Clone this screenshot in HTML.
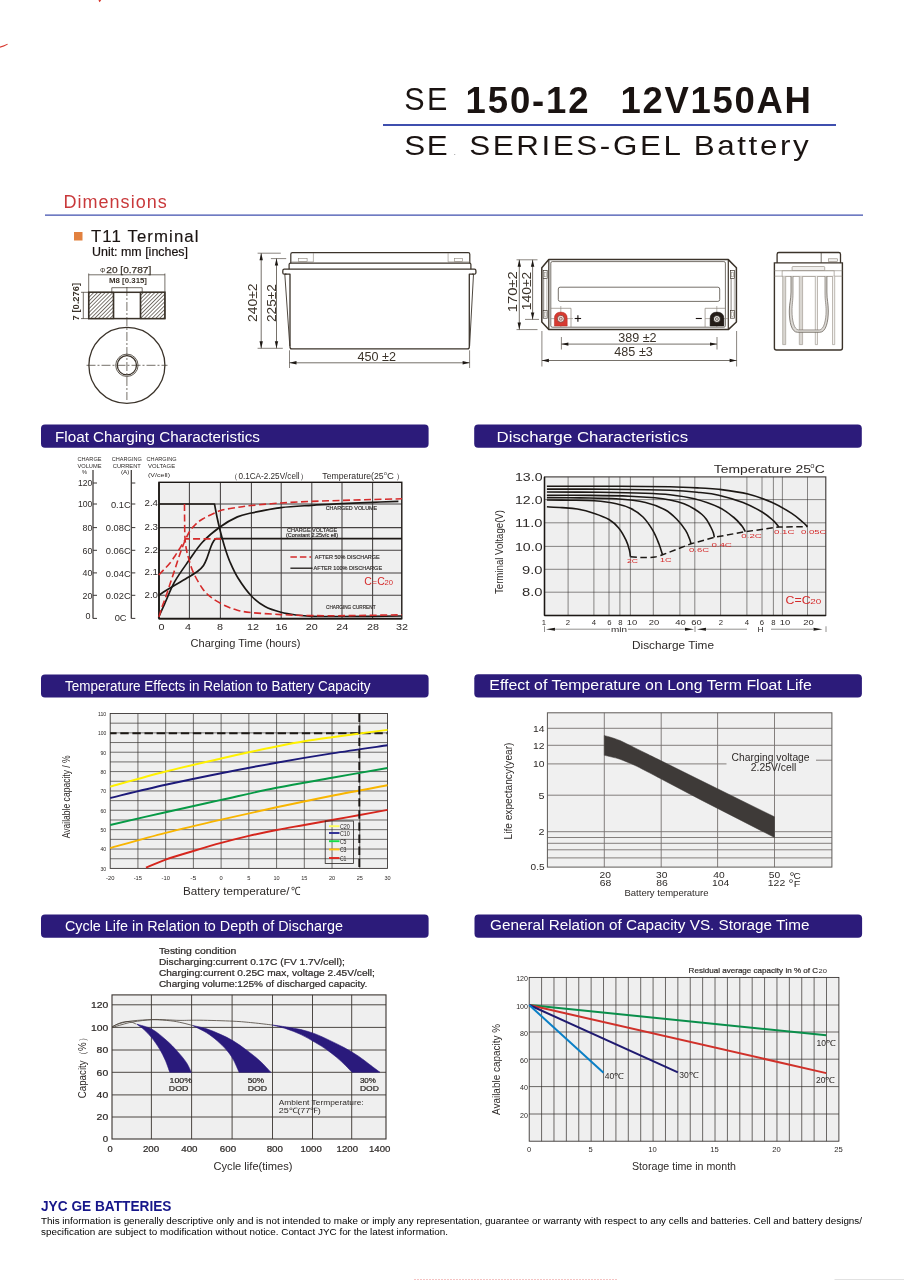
<!DOCTYPE html>
<html lang="en"><head><meta charset="utf-8"><title>SE 150-12 12V150AH SE SERIES-GEL Battery</title>
<style>html,body{margin:0;padding:0;background:#fff}body{width:904px;height:1280px;overflow:hidden}svg{display:block}svg text{font-family:"Liberation Sans", Arial, Helvetica, sans-serif;white-space:pre}</style></head><body>
<svg width="904" height="1280" viewBox="0 0 904 1280">
<rect width="904" height="1280" fill="#fff"/>
<g id="sec_header">
<path d="M0,46.5 Q4,45.6 7.5,43.8 L7.8,44.6 Q4,46.8 0,47.8 Z" fill="#d8382e" stroke="none" stroke-width="1" />
<path d="M98.5,0 L101.2,0 Q100.6,1.6 99.3,2.2 Z" fill="#d8382e" stroke="none" stroke-width="1" />
<text x="404.3" y="110.2" font-size="30.5" fill="#1a1311" textLength="43" lengthAdjust="spacing">SE</text>
<text x="465.6" y="112.6" font-size="36.5" fill="#1a1311" textLength="123" lengthAdjust="spacing" font-weight="bold">150-12</text>
<text x="620.4" y="112.6" font-size="36.5" fill="#1a1311" textLength="190.5" lengthAdjust="spacing" font-weight="bold">12V150AH</text>
<line x1="383" y1="124.9" x2="836" y2="124.9" stroke="#3f4fae" stroke-width="2" />
<text x="0" y="0" font-size="28.5" fill="#1a1311" textLength="39.55" lengthAdjust="spacing" transform="translate(404.2 155) scale(1.1 1)">SE</text>
<text x="453.5" y="155" font-size="9" fill="#999">.</text>
<text x="0" y="0" font-size="28.5" fill="#1a1311" textLength="308.64" lengthAdjust="spacing" transform="translate(469.2 155) scale(1.1 1)">SERIES-GEL Battery</text>
<text x="63.4" y="208.3" font-size="18" fill="#c9393b" textLength="103.4" lengthAdjust="spacing">Dimensions</text>
<line x1="45" y1="215.2" x2="863" y2="215.2" stroke="#3f4fae" stroke-width="1.3" />
<rect x="41" y="424.5" width="387.6" height="23.2" fill="#2c1b7a" stroke="none" stroke-width="1" rx="4" />
<text x="55" y="441.5" font-size="15.3" fill="#fff" textLength="205" lengthAdjust="spacingAndGlyphs">Float Charging Characteristics</text>
<rect x="474.2" y="424.5" width="387.6" height="23.2" fill="#2c1b7a" stroke="none" stroke-width="1" rx="4" />
<text x="496.6" y="441.5" font-size="15.4" fill="#fff" textLength="191.5" lengthAdjust="spacingAndGlyphs">Discharge Characteristics</text>
<rect x="41" y="674.4" width="387.6" height="23.2" fill="#2c1b7a" stroke="none" stroke-width="1" rx="4" />
<text x="64.9" y="690.8" font-size="15.3" fill="#fff" textLength="305.7" lengthAdjust="spacingAndGlyphs">Temperature Effects in Relation to Battery Capacity</text>
<rect x="474.3" y="674.3" width="387.6" height="23.2" fill="#2c1b7a" stroke="none" stroke-width="1" rx="4" />
<text x="489.3" y="689.9" font-size="15.5" fill="#fff" textLength="322.5" lengthAdjust="spacingAndGlyphs">Effect of Temperature on Long Term Float Life</text>
<rect x="41" y="914.5" width="387.6" height="23.2" fill="#2c1b7a" stroke="none" stroke-width="1" rx="4" />
<text x="64.9" y="930.5" font-size="15.4" fill="#fff" textLength="278" lengthAdjust="spacingAndGlyphs">Cycle Life in Relation to Depth of Discharge</text>
<rect x="474.5" y="914.5" width="387.6" height="23.2" fill="#2c1b7a" stroke="none" stroke-width="1" rx="4" />
<text x="490" y="930.1" font-size="15.4" fill="#fff" textLength="319.5" lengthAdjust="spacingAndGlyphs">General Relation of Capacity VS. Storage Time</text>
</g>
<g id="sec_dims">
<rect x="74" y="232" width="8.5" height="8.5" fill="#e2813f" stroke="none" stroke-width="1" rx="0" />
<text x="0" y="0" font-size="16" fill="#1a1311" textLength="102.38" lengthAdjust="spacing" transform="translate(91 242.3) scale(1.05 1)" stroke="#1a1311" stroke-width="0.15">T11 Terminal</text>
<text x="92" y="256" font-size="12.3" fill="#1a1311" textLength="96" lengthAdjust="spacingAndGlyphs" stroke="#1a1311" stroke-width="0.2">Unit: mm [inches]</text>
<text x="100" y="272.9" font-size="7.5" fill="#3b332a" textLength="5.5" lengthAdjust="spacingAndGlyphs">Φ</text>
<text x="106.3" y="272.9" font-size="9.9" fill="#3b332a" textLength="45" lengthAdjust="spacingAndGlyphs" stroke="#3b332a" stroke-width="0.25">20 [0.787]</text>
<line x1="88.7" y1="274.8" x2="164.9" y2="274.8" stroke="#3b332a" stroke-width="0.7" />
<line x1="88.7" y1="273.5" x2="88.7" y2="292" stroke="#3b332a" stroke-width="0.7" />
<line x1="164.9" y1="273.5" x2="164.9" y2="292" stroke="#3b332a" stroke-width="0.7" />
<text x="109" y="283.3" font-size="7.2" fill="#3b332a" textLength="38" lengthAdjust="spacingAndGlyphs" font-weight="bold">M8 [0.315]</text>
<path d="M111.8,292 V287.7 H142.2 V292" fill="none" stroke="#3b332a" stroke-width="0.7" />
<defs><pattern id="hat" width="2.7" height="2.7" patternUnits="userSpaceOnUse" patternTransform="rotate(-45)"><rect width="2.7" height="2.7" fill="#fff"/><line x1="0" y1="0.4" x2="2.7" y2="0.4" stroke="#3b332a" stroke-width="0.7"/></pattern></defs>
<rect x="88.7" y="292.3" width="24.8" height="26.3" fill="url(#hat)" stroke="#3b332a" stroke-width="1.1" rx="0" />
<rect x="140.5" y="292.3" width="24.4" height="26.3" fill="url(#hat)" stroke="#3b332a" stroke-width="1.1" rx="0" />
<rect x="88.7" y="292.3" width="76.2" height="26.3" fill="none" stroke="#3b332a" stroke-width="1.5" rx="0" />
<line x1="113.5" y1="292.3" x2="113.5" y2="318.6" stroke="#3b332a" stroke-width="1.6" />
<line x1="140.5" y1="292.3" x2="140.5" y2="318.6" stroke="#3b332a" stroke-width="1.6" />
<line x1="83.3" y1="292.3" x2="83.3" y2="318.6" stroke="#3b332a" stroke-width="0.7" />
<line x1="81" y1="292.3" x2="89" y2="292.3" stroke="#3b332a" stroke-width="0.7" />
<line x1="81" y1="318.6" x2="89" y2="318.6" stroke="#3b332a" stroke-width="0.7" />
<text x="79.2" y="320.4" font-size="9.7" fill="#3b332a" textLength="37.5" lengthAdjust="spacingAndGlyphs" font-weight="bold" transform="rotate(-90 79.2 320.4)">7 [0.276]</text>
<line x1="126.9" y1="287" x2="126.9" y2="400" stroke="#3b332a" stroke-width="0.7" stroke-dasharray="9 2 2 2"/>
<line x1="86.5" y1="365.3" x2="167.5" y2="365.3" stroke="#3b332a" stroke-width="0.7" stroke-dasharray="9 2 2 2"/>
<circle cx="126.9" cy="365.3" r="38" fill="none" stroke="#3b332a" stroke-width="1.3"/>
<circle cx="126.9" cy="365.3" r="11.2" fill="none" stroke="#3b332a" stroke-width="0.8"/>
<circle cx="126.9" cy="365.3" r="9.6" fill="none" stroke="#3b332a" stroke-width="1.3"/>
<path d="M290.8,263.2 V254.2 Q290.8,252.6 292.4,252.6 H468.2 Q469.8,252.6 469.8,254.2 V263.2" fill="none" stroke="#3b332a" stroke-width="1.2" />
<path d="M290.8,261.9 H313.4 V253" fill="none" stroke="#8a8378" stroke-width="0.6" />
<path d="M469.8,261.9 H448.1 V253" fill="none" stroke="#8a8378" stroke-width="0.6" />
<rect x="298.5" y="258.3" width="8.6" height="3.4" fill="none" stroke="#8a8378" stroke-width="0.6" rx="0" />
<rect x="454.3" y="258.3" width="8.4" height="3.4" fill="none" stroke="#8a8378" stroke-width="0.6" rx="0" />
<path d="M289.1,269.2 V264.6 Q289.1,263.2 290.5,263.2 H469.5 Q470.9,263.2 470.9,264.6 V269.2" fill="none" stroke="#3b332a" stroke-width="1.2" />
<path d="M286.5,274.2 H284.3 Q282.8,274.2 282.8,272.7 V270.7 Q282.8,269.2 284.3,269.2 H474.4 Q475.9,269.2 475.9,270.7 V272.7 Q475.9,274.2 474.4,274.2 H472.3" fill="none" stroke="#3b332a" stroke-width="1.3" />
<path d="M284.8,274.2 H290 V347 Q290,348.9 291.9,348.9 H467.4 Q469.3,348.9 469.3,347 V274.2 H473.5" fill="none" stroke="#3b332a" stroke-width="1.3" stroke-linejoin="round"/>
<path d="M284.8,274.2 L289.8,346" fill="none" stroke="#3b332a" stroke-width="0.9" />
<path d="M473.5,274.2 L469.6,346" fill="none" stroke="#3b332a" stroke-width="0.9" />
<line x1="257.6" y1="253.2" x2="280.8" y2="253.2" stroke="#3b332a" stroke-width="0.6" />
<line x1="270.9" y1="258.6" x2="286.2" y2="258.6" stroke="#3b332a" stroke-width="0.6" />
<line x1="257.6" y1="348.3" x2="282.8" y2="348.3" stroke="#3b332a" stroke-width="0.6" />
<line x1="261.2" y1="253.2" x2="261.2" y2="348.3" stroke="#3b332a" stroke-width="0.7" />
<path d="M261.2,253.2 l-1.7,7 h3.4 Z" fill="#1d1814" stroke="none" stroke-width="1" />
<path d="M261.2,348.3 l-1.7,-7 h3.4 Z" fill="#1d1814" stroke="none" stroke-width="1" />
<line x1="276.5" y1="258.6" x2="276.5" y2="348.3" stroke="#3b332a" stroke-width="0.7" />
<path d="M276.5,258.6 l-1.7,7 h3.4 Z" fill="#1d1814" stroke="none" stroke-width="1" />
<path d="M276.5,348.3 l-1.7,-7 h3.4 Z" fill="#1d1814" stroke="none" stroke-width="1" />
<text x="257.4" y="322" font-size="13.2" fill="#3b332a" textLength="38.5" lengthAdjust="spacingAndGlyphs" transform="rotate(-90 257.4 322)">240±2</text>
<text x="275.6" y="322" font-size="13.2" fill="#3b332a" textLength="37.8" lengthAdjust="spacingAndGlyphs" transform="rotate(-90 275.6 322)">225±2</text>
<line x1="289.5" y1="350.3" x2="289.5" y2="368" stroke="#3b332a" stroke-width="0.6" />
<line x1="469.6" y1="350.3" x2="469.6" y2="368" stroke="#3b332a" stroke-width="0.6" />
<line x1="289.5" y1="362.8" x2="469.6" y2="362.8" stroke="#3b332a" stroke-width="0.7" />
<path d="M289.5,362.8 l7,-1.7 v3.4 Z" fill="#1d1814" stroke="none" stroke-width="1" />
<path d="M469.6,362.8 l-7,-1.7 v3.4 Z" fill="#1d1814" stroke="none" stroke-width="1" />
<text x="376.8" y="361" font-size="13.2" fill="#3b332a" textLength="38.5" lengthAdjust="spacingAndGlyphs" text-anchor="middle">450 ±2</text>
<path d="M548.8,259.6 H728.3 L736.4,267.8 V322 L728.3,329.6 H548.8 L541.8,322 V267.8 Z" fill="none" stroke="#3b332a" stroke-width="1.5" stroke-linejoin="round"/>
<rect x="550.8" y="261.6" width="174.6" height="65.6" fill="none" stroke="#3b332a" stroke-width="0.7" rx="1.5" />
<line x1="548.8" y1="259.6" x2="548.8" y2="329.6" stroke="#3b332a" stroke-width="1.2" />
<line x1="728.3" y1="259.6" x2="728.3" y2="329.6" stroke="#3b332a" stroke-width="1.2" />
<rect x="558.3" y="287.2" width="161.4" height="14.2" fill="none" stroke="#3b332a" stroke-width="0.7" rx="1.8" />
<rect x="543.2" y="270.6" width="4.0" height="7.8" fill="none" stroke="#3b332a" stroke-width="0.7" rx="0" />
<rect x="544.3000000000001" y="272.20000000000005" width="1.8" height="4.6" fill="none" stroke="#8a8378" stroke-width="0.5" rx="0" />
<rect x="543.2" y="310.4" width="4.0" height="7.8" fill="none" stroke="#3b332a" stroke-width="0.7" rx="0" />
<rect x="544.3000000000001" y="312.0" width="1.8" height="4.6" fill="none" stroke="#8a8378" stroke-width="0.5" rx="0" />
<line x1="543.7" y1="278.4" x2="543.7" y2="310.4" stroke="#3b332a" stroke-width="0.6" />
<line x1="546.9000000000001" y1="278.4" x2="546.9000000000001" y2="310.4" stroke="#8a8378" stroke-width="0.6" />
<rect x="730.6" y="270.6" width="4.0" height="7.8" fill="none" stroke="#3b332a" stroke-width="0.7" rx="0" />
<rect x="731.7" y="272.20000000000005" width="1.8" height="4.6" fill="none" stroke="#8a8378" stroke-width="0.5" rx="0" />
<rect x="730.6" y="310.4" width="4.0" height="7.8" fill="none" stroke="#3b332a" stroke-width="0.7" rx="0" />
<rect x="731.7" y="312.0" width="1.8" height="4.6" fill="none" stroke="#8a8378" stroke-width="0.5" rx="0" />
<line x1="731.1" y1="278.4" x2="731.1" y2="310.4" stroke="#3b332a" stroke-width="0.6" />
<line x1="734.3000000000001" y1="278.4" x2="734.3000000000001" y2="310.4" stroke="#8a8378" stroke-width="0.6" />
<path d="M550.8,308.3 H571 V327" fill="none" stroke="#8a8378" stroke-width="0.7" />
<path d="M725.4,308.3 H705.1 V327" fill="none" stroke="#8a8378" stroke-width="0.7" />
<line x1="560.8" y1="306" x2="560.8" y2="327" stroke="#8a8378" stroke-width="0.6" />
<line x1="550.8" y1="318.6" x2="573" y2="318.6" stroke="#8a8378" stroke-width="0.6" />
<line x1="716.8" y1="306" x2="716.8" y2="327" stroke="#8a8378" stroke-width="0.6" />
<line x1="705.1" y1="318.6" x2="728" y2="318.6" stroke="#8a8378" stroke-width="0.6" />
<path d="M554.4,326 V318.6 Q554.4,312.1 560.8,312.1 Q567.2,312.1 567.2,318.6 V326 Z" fill="#d63a31" stroke="#b32a22" stroke-width="0.5" />
<path d="M710.1,326 V318.8 Q710.1,312.1 717,312.1 Q723.9,312.1 723.9,318.8 V326 Z" fill="#241d18" stroke="#15110e" stroke-width="0.5" />
<circle cx="560.8" cy="318.8" r="3.5" fill="#efe3df" stroke="#7a3a32" stroke-width="0.8"/><circle cx="560.8" cy="318.8" r="1.5" fill="#d9cfca" stroke="#7a3a32" stroke-width="0.6"/>
<circle cx="716.9" cy="319" r="3.5" fill="#ebe8e4" stroke="#15110e" stroke-width="0.8"/><circle cx="716.9" cy="319" r="1.5" fill="#d5d1cc" stroke="#3a332c" stroke-width="0.6"/>
<line x1="574.7" y1="318.5" x2="581.1" y2="318.5" stroke="#1a1311" stroke-width="1.1" />
<line x1="577.9" y1="315.3" x2="577.9" y2="321.7" stroke="#1a1311" stroke-width="1.1" />
<line x1="695.8" y1="318.5" x2="701.8" y2="318.5" stroke="#1a1311" stroke-width="1.1" />
<line x1="516.5" y1="259.8" x2="537.5" y2="259.8" stroke="#3b332a" stroke-width="0.6" />
<line x1="525" y1="319.4" x2="539" y2="319.4" stroke="#3b332a" stroke-width="0.6" />
<line x1="516.5" y1="329.6" x2="537.5" y2="329.6" stroke="#3b332a" stroke-width="0.6" />
<line x1="519.3" y1="259.8" x2="519.3" y2="329.6" stroke="#3b332a" stroke-width="0.7" />
<path d="M519.3,259.8 l-1.7,7 h3.4 Z" fill="#1d1814" stroke="none" stroke-width="1" />
<path d="M519.3,329.6 l-1.7,-7 h3.4 Z" fill="#1d1814" stroke="none" stroke-width="1" />
<line x1="532.6" y1="259.8" x2="532.6" y2="319.4" stroke="#3b332a" stroke-width="0.7" />
<path d="M532.6,259.8 l-1.7,7 h3.4 Z" fill="#1d1814" stroke="none" stroke-width="1" />
<path d="M532.6,319.4 l-1.7,-7 h3.4 Z" fill="#1d1814" stroke="none" stroke-width="1" />
<text x="516.6" y="312.3" font-size="13.4" fill="#3b332a" textLength="41" lengthAdjust="spacingAndGlyphs" transform="rotate(-90 516.6 312.3)">170±2</text>
<text x="530.6" y="310.2" font-size="13.4" fill="#3b332a" textLength="38.5" lengthAdjust="spacingAndGlyphs" transform="rotate(-90 530.6 310.2)">140±2</text>
<line x1="561.4" y1="337" x2="561.4" y2="349.5" stroke="#3b332a" stroke-width="0.6" />
<line x1="717" y1="337" x2="717" y2="349.5" stroke="#3b332a" stroke-width="0.6" />
<line x1="561.4" y1="344.1" x2="717" y2="344.1" stroke="#3b332a" stroke-width="0.7" />
<path d="M561.4,344.1 l7,-1.7 v3.4 Z" fill="#1d1814" stroke="none" stroke-width="1" />
<path d="M717,344.1 l-7,-1.7 v3.4 Z" fill="#1d1814" stroke="none" stroke-width="1" />
<text x="637.4" y="342.4" font-size="13.2" fill="#3b332a" textLength="38.5" lengthAdjust="spacingAndGlyphs" text-anchor="middle">389 ±2</text>
<line x1="541.9" y1="331" x2="541.9" y2="366.5" stroke="#3b332a" stroke-width="0.6" />
<line x1="736.6" y1="331" x2="736.6" y2="366.5" stroke="#3b332a" stroke-width="0.6" />
<line x1="541.9" y1="360.5" x2="736.6" y2="360.5" stroke="#3b332a" stroke-width="0.7" />
<path d="M541.9,360.5 l7,-1.7 v3.4 Z" fill="#1d1814" stroke="none" stroke-width="1" />
<path d="M736.6,360.5 l-7,-1.7 v3.4 Z" fill="#1d1814" stroke="none" stroke-width="1" />
<text x="633.6" y="356" font-size="13.2" fill="#3b332a" textLength="38.5" lengthAdjust="spacingAndGlyphs" text-anchor="middle">485 ±3</text>
<path d="M777.1,262.9 V254.3 Q777.1,252.5 778.9,252.5 H838.7 Q840.5,252.5 840.5,254.3 V262.9" fill="none" stroke="#3b332a" stroke-width="1.3" />
<line x1="821.2" y1="252.5" x2="821.2" y2="262.8" stroke="#3b332a" stroke-width="0.7" />
<rect x="828.4" y="258.8" width="9" height="2.7" fill="#f3f2f0" stroke="#8a8378" stroke-width="0.6" rx="0" />
<path d="M774.4,262.9 H842.4 V348 Q842.4,350 840.4,350 H776.4 Q774.4,350 774.4,348 Z" fill="none" stroke="#3b332a" stroke-width="1.4" />
<line x1="774.4" y1="270.7" x2="842.4" y2="270.7" stroke="#8a8378" stroke-width="0.6" />
<line x1="774.4" y1="276.2" x2="842.4" y2="276.2" stroke="#8a8378" stroke-width="0.6" />
<rect x="792.1" y="266.5" width="32.6" height="4.1" fill="#f1f0ee" stroke="#8a8378" stroke-width="0.6" rx="0.8" />
<rect x="782.1" y="270.9" width="52" height="5.3" fill="#fff" stroke="#8a8378" stroke-width="0.6" rx="0" />
<path d="M782.7,276.2 V344.6 H785.7 V276.2" fill="#d9d6d1" stroke="#a39d95" stroke-width="0.7" />
<path d="M799.3,276.2 V344.6 H802.6 V276.2" fill="#d9d6d1" stroke="#a39d95" stroke-width="0.7" />
<path d="M815.3,276.2 V344.6 H817.5 V276.2" fill="#f4f3f1" stroke="#a39d95" stroke-width="0.7" />
<path d="M832.5,276.2 V344.6 H834.7 V276.2" fill="#f4f3f1" stroke="#a39d95" stroke-width="0.7" />
<path d="M791,276.2 V292 C791,300 789.3,303 789.3,311 C789.3,322 791.5,332.3 797.5,332.3 H819.8 C825.8,332.3 828.3,322 828.3,311 C828.3,303 826.9,300 826.9,292 V276.2 L825,276.2 V293 C825,301 826.1,304 826.1,311 C826.1,320 823.9,329.9 819.3,329.9 H798.6 C794,329.9 792,320 792,311 C792,304 793,301 793,293 V276.2 Z" fill="#dcd9d5" stroke="none" stroke-width="1" />
<path d="M791,276.2 V292 C791,300 789.3,303 789.3,311 C789.3,322 791.5,332.3 797.5,332.3 H819.8 C825.8,332.3 828.3,322 828.3,311 C828.3,303 826.9,300 826.9,292 V276.2" fill="none" stroke="#6b645c" stroke-width="0.8" />
<path d="M793,276.2 V293 C793,301 792,304 792,311 C792,320 794,329.9 798.6,329.9 H819.3 C823.9,329.9 826.1,320 826.1,311 C826.1,304 825,301 825,293 V276.2" fill="none" stroke="#7d766e" stroke-width="0.7" />
</g>
<g id="sec_float">
<rect x="159.0" y="482.3" width="242.8" height="136.40000000000003" fill="#efefef" stroke="none" stroke-width="1" rx="0" />
<line x1="189.4" y1="482.3" x2="189.4" y2="618.7" stroke="#454140" stroke-width="1.05" />
<line x1="220.4" y1="482.3" x2="220.4" y2="618.7" stroke="#454140" stroke-width="1.05" />
<line x1="251.4" y1="482.3" x2="251.4" y2="618.7" stroke="#454140" stroke-width="1.05" />
<line x1="281.2" y1="482.3" x2="281.2" y2="618.7" stroke="#454140" stroke-width="1.05" />
<line x1="311.8" y1="482.3" x2="311.8" y2="618.7" stroke="#454140" stroke-width="1.05" />
<line x1="342.0" y1="482.3" x2="342.0" y2="618.7" stroke="#454140" stroke-width="1.05" />
<line x1="372.6" y1="482.3" x2="372.6" y2="618.7" stroke="#454140" stroke-width="1.05" />
<line x1="159.0" y1="504.0" x2="401.8" y2="504.0" stroke="#454140" stroke-width="1.05" />
<line x1="159.0" y1="527.6" x2="401.8" y2="527.6" stroke="#454140" stroke-width="1.05" />
<line x1="159.0" y1="550.3" x2="401.8" y2="550.3" stroke="#454140" stroke-width="1.05" />
<line x1="159.0" y1="572.9" x2="401.8" y2="572.9" stroke="#454140" stroke-width="1.05" />
<line x1="159.0" y1="595.3" x2="401.8" y2="595.3" stroke="#454140" stroke-width="1.05" />
<rect x="159.0" y="482.3" width="242.8" height="136.40000000000003" fill="none" stroke="#1c1815" stroke-width="1.4" rx="0" />
<line x1="159.0" y1="618.7" x2="401.8" y2="618.7" stroke="#1c1815" stroke-width="1.8" />
<line x1="159.0" y1="482.3" x2="159.0" y2="618.7" stroke="#1c1815" stroke-width="1.6" />
<line x1="93" y1="470" x2="93" y2="618.4" stroke="#3d3937" stroke-width="1.25" />
<line x1="131.3" y1="470" x2="131.3" y2="618.4" stroke="#3d3937" stroke-width="1.25" />
<line x1="93" y1="483" x2="97" y2="483" stroke="#3d3937" stroke-width="1.0" />
<line x1="131.3" y1="483" x2="135.3" y2="483" stroke="#3d3937" stroke-width="1.0" />
<line x1="93" y1="504.0" x2="97" y2="504.0" stroke="#3d3937" stroke-width="1.0" />
<line x1="131.3" y1="504.0" x2="135.3" y2="504.0" stroke="#3d3937" stroke-width="1.0" />
<line x1="93" y1="527.6" x2="97" y2="527.6" stroke="#3d3937" stroke-width="1.0" />
<line x1="131.3" y1="527.6" x2="135.3" y2="527.6" stroke="#3d3937" stroke-width="1.0" />
<line x1="93" y1="550.3" x2="97" y2="550.3" stroke="#3d3937" stroke-width="1.0" />
<line x1="131.3" y1="550.3" x2="135.3" y2="550.3" stroke="#3d3937" stroke-width="1.0" />
<line x1="93" y1="572.9" x2="97" y2="572.9" stroke="#3d3937" stroke-width="1.0" />
<line x1="131.3" y1="572.9" x2="135.3" y2="572.9" stroke="#3d3937" stroke-width="1.0" />
<line x1="93" y1="595.3" x2="97" y2="595.3" stroke="#3d3937" stroke-width="1.0" />
<line x1="131.3" y1="595.3" x2="135.3" y2="595.3" stroke="#3d3937" stroke-width="1.0" />
<line x1="93" y1="618.4" x2="97" y2="618.4" stroke="#3d3937" stroke-width="1.0" />
<line x1="131.3" y1="618.4" x2="135.3" y2="618.4" stroke="#3d3937" stroke-width="1.0" />
<text x="92.3" y="486.4" font-size="9.3" fill="#2e2a28" textLength="14.4" lengthAdjust="spacingAndGlyphs" text-anchor="end">120</text>
<text x="92.3" y="507.4" font-size="9.3" fill="#2e2a28" textLength="14.4" lengthAdjust="spacingAndGlyphs" text-anchor="end">100</text>
<text x="92.3" y="531.0" font-size="9.3" fill="#2e2a28" textLength="9.8" lengthAdjust="spacingAndGlyphs" text-anchor="end">80</text>
<text x="92.3" y="553.6999999999999" font-size="9.3" fill="#2e2a28" textLength="9.8" lengthAdjust="spacingAndGlyphs" text-anchor="end">60</text>
<text x="92.3" y="576.3" font-size="9.3" fill="#2e2a28" textLength="9.8" lengthAdjust="spacingAndGlyphs" text-anchor="end">40</text>
<text x="92.3" y="598.6999999999999" font-size="9.3" fill="#2e2a28" textLength="9.8" lengthAdjust="spacingAndGlyphs" text-anchor="end">20</text>
<text x="90.4" y="619.4" font-size="9.3" fill="#2e2a28" textLength="5" lengthAdjust="spacingAndGlyphs" text-anchor="end">0</text>
<text x="130.6" y="507.6" font-size="9.3" fill="#2e2a28" text-anchor="end">0.1C</text>
<text x="130.6" y="531.2" font-size="9.3" fill="#2e2a28" text-anchor="end">0.08C</text>
<text x="130.6" y="553.9" font-size="9.3" fill="#2e2a28" text-anchor="end">0.06C</text>
<text x="130.6" y="576.5" font-size="9.3" fill="#2e2a28" text-anchor="end">0.04C</text>
<text x="130.6" y="598.9" font-size="9.3" fill="#2e2a28" text-anchor="end">0.02C</text>
<text x="126.6" y="621.0" font-size="9.3" fill="#2e2a28" text-anchor="end">0C</text>
<text x="144.5" y="506.2" font-size="9.3" fill="#2e2a28" textLength="13.5" lengthAdjust="spacingAndGlyphs">2.4</text>
<text x="144.5" y="529.8000000000001" font-size="9.3" fill="#2e2a28" textLength="13.5" lengthAdjust="spacingAndGlyphs">2.3</text>
<text x="144.5" y="552.5" font-size="9.3" fill="#2e2a28" textLength="13.5" lengthAdjust="spacingAndGlyphs">2.2</text>
<text x="144.5" y="575.1" font-size="9.3" fill="#2e2a28" textLength="13.5" lengthAdjust="spacingAndGlyphs">2.1</text>
<text x="144.5" y="597.5" font-size="9.3" fill="#2e2a28" textLength="13.5" lengthAdjust="spacingAndGlyphs">2.0</text>
<text x="89.5" y="461.3" font-size="5.7" fill="#2e2a28" textLength="24" lengthAdjust="spacingAndGlyphs" text-anchor="middle">CHARGE</text>
<text x="89.5" y="467.6" font-size="5.7" fill="#2e2a28" textLength="24" lengthAdjust="spacingAndGlyphs" text-anchor="middle">VOLUME</text>
<text x="82" y="474.2" font-size="5.6" fill="#2e2a28" textLength="5" lengthAdjust="spacingAndGlyphs">%</text>
<text x="126.8" y="461.3" font-size="5.7" fill="#2e2a28" textLength="30" lengthAdjust="spacingAndGlyphs" text-anchor="middle">CHARGING</text>
<text x="126.8" y="467.6" font-size="5.7" fill="#2e2a28" textLength="28" lengthAdjust="spacingAndGlyphs" text-anchor="middle">CURRENT</text>
<text x="121" y="474.2" font-size="5.6" fill="#2e2a28" textLength="8.5" lengthAdjust="spacingAndGlyphs">(A)</text>
<text x="161.6" y="461.3" font-size="5.7" fill="#2e2a28" textLength="30" lengthAdjust="spacingAndGlyphs" text-anchor="middle">CHARGING</text>
<text x="161.6" y="467.6" font-size="5.7" fill="#2e2a28" textLength="27" lengthAdjust="spacingAndGlyphs" text-anchor="middle">VOLTAGE</text>
<text x="148" y="476.5" font-size="5.6" fill="#2e2a28" textLength="22" lengthAdjust="spacingAndGlyphs">(V/cell)</text>
<text x="161.6" y="629.6" font-size="9.3" fill="#2e2a28" textLength="6" lengthAdjust="spacingAndGlyphs" text-anchor="middle">0</text>
<text x="187.9" y="629.6" font-size="9.3" fill="#2e2a28" textLength="6" lengthAdjust="spacingAndGlyphs" text-anchor="middle">4</text>
<text x="220.0" y="629.6" font-size="9.3" fill="#2e2a28" textLength="6" lengthAdjust="spacingAndGlyphs" text-anchor="middle">8</text>
<text x="253.0" y="629.6" font-size="9.3" fill="#2e2a28" textLength="12" lengthAdjust="spacingAndGlyphs" text-anchor="middle">12</text>
<text x="281.6" y="629.6" font-size="9.3" fill="#2e2a28" textLength="12" lengthAdjust="spacingAndGlyphs" text-anchor="middle">16</text>
<text x="311.8" y="629.6" font-size="9.3" fill="#2e2a28" textLength="12" lengthAdjust="spacingAndGlyphs" text-anchor="middle">20</text>
<text x="342.2" y="629.6" font-size="9.3" fill="#2e2a28" textLength="12" lengthAdjust="spacingAndGlyphs" text-anchor="middle">24</text>
<text x="372.9" y="629.6" font-size="9.3" fill="#2e2a28" textLength="12" lengthAdjust="spacingAndGlyphs" text-anchor="middle">28</text>
<text x="401.9" y="629.6" font-size="9.3" fill="#2e2a28" textLength="12" lengthAdjust="spacingAndGlyphs" text-anchor="middle">32</text>
<text x="245.5" y="647.3" font-size="10.3" fill="#2e2a28" textLength="110" lengthAdjust="spacingAndGlyphs" text-anchor="middle">Charging Time (hours)</text>
<text x="230.2" y="478.6" font-size="8" fill="#2e2a28" font-family='"Liberation Sans", "Noto Sans CJK SC", sans-serif'>（</text>
<text x="238.4" y="478.9" font-size="8.2" fill="#2e2a28" textLength="61.2" lengthAdjust="spacingAndGlyphs">0.1CA-2.25V/cell</text>
<text x="300.4" y="478.6" font-size="8" fill="#2e2a28" font-family='"Liberation Sans", "Noto Sans CJK SC", sans-serif'>）</text>
<text x="322.3" y="478.9" font-size="9" fill="#2e2a28" textLength="61.4" lengthAdjust="spacingAndGlyphs">Temperature(25</text>
<text x="384.0" y="474.9" font-size="5.2" fill="#2e2a28">o</text>
<text x="387.0" y="478.9" font-size="9" fill="#2e2a28" textLength="6.9" lengthAdjust="spacingAndGlyphs">C</text>
<text x="396.0" y="478.6" font-size="8" fill="#2e2a28" font-family='"Liberation Sans", "Noto Sans CJK SC", sans-serif'>）</text>
<path d="M159.0,504 L214.5,504 C214.92,506.17 216.08,512.67 217.00,517.00 C217.92,521.33 218.67,524.83 220.00,530.00 C221.33,535.17 223.33,542.67 225.00,548.00 C226.67,553.33 227.83,557.00 230.00,562.00 C232.17,567.00 234.43,572.33 238.00,578.00 C241.57,583.67 246.90,591.25 251.40,596.00 C255.90,600.75 260.07,603.78 265.00,606.50 C269.93,609.22 275.83,610.88 281.00,612.30 C286.17,613.72 290.87,614.33 296.00,615.00 C301.13,615.67 304.47,616.05 311.80,616.30 C319.13,616.55 324.97,616.55 340.00,616.50 C355.03,616.45 391.67,616.08 402.00,616.00" fill="none" stroke="#1c1815" stroke-width="1.7" stroke-linejoin="round"/>
<path d="M158.50,617.50 C159.58,615.08 162.30,608.97 165.00,603.00 C167.70,597.03 170.75,588.73 174.70,581.70 C178.65,574.67 184.05,567.42 188.70,560.80 C193.35,554.18 197.38,547.63 202.60,542.00 C207.82,536.37 214.20,531.18 220.00,527.00 C225.80,522.82 232.17,519.23 237.40,516.90 C242.63,514.57 244.13,514.55 251.40,513.00 C258.67,511.45 270.93,508.88 281.00,507.60 C291.07,506.32 301.63,505.95 311.80,505.30 C321.97,504.65 331.87,504.20 342.00,503.70 C352.13,503.20 363.20,502.68 372.60,502.30 C382.00,501.92 394.10,501.55 398.40,501.40" fill="none" stroke="#1c1815" stroke-width="1.7" />
<path d="M158.50,595.50 C159.75,594.67 163.30,592.22 166.00,590.50 C168.70,588.78 170.92,587.45 174.70,585.20 C178.48,582.95 184.82,579.37 188.70,577.00 C192.58,574.63 195.53,572.92 198.00,571.00 C200.47,569.08 201.97,567.75 203.50,565.50 C205.03,563.25 205.95,560.67 207.20,557.50 C208.45,554.33 209.87,549.33 211.00,546.50 C212.13,543.67 213.13,541.80 214.00,540.50 C214.87,539.20 215.83,539.00 216.20,538.70 L401.8,538.7" fill="none" stroke="#1c1815" stroke-width="1.7" />
<path d="M184.50,504.00 C184.52,506.67 184.52,514.33 184.60,520.00 C184.68,525.67 184.68,533.00 185.00,538.00 C185.32,543.00 185.88,546.58 186.50,550.00 C187.12,553.42 187.57,554.77 188.70,558.50 C189.83,562.23 190.98,567.37 193.30,572.40 C195.62,577.43 199.50,584.43 202.60,588.70 C205.70,592.97 208.03,595.12 211.90,598.00 C215.77,600.88 221.55,603.97 225.80,606.00 C230.05,608.03 233.13,609.10 237.40,610.20 C241.67,611.30 244.13,611.87 251.40,612.60 C258.67,613.33 270.93,614.10 281.00,614.60 C291.07,615.10 300.30,615.43 311.80,615.60 C323.30,615.77 334.97,615.73 350.00,615.60 C365.03,615.47 393.33,614.93 402.00,614.80" fill="none" stroke="#d52b2b" stroke-width="1.6" stroke-dasharray="7 3.5"/>
<path d="M159.00,617.00 C159.50,615.33 160.93,610.17 162.00,607.00 C163.07,603.83 164.07,601.83 165.40,598.00 C166.73,594.17 168.45,588.67 170.00,584.00 C171.55,579.33 172.75,575.83 174.70,570.00 C176.65,564.17 179.37,555.17 181.70,549.00 C184.03,542.83 186.48,537.00 188.70,533.00 C190.92,529.00 192.68,527.33 195.00,525.00 C197.32,522.67 198.43,521.37 202.60,519.00 C206.77,516.63 214.20,512.73 220.00,510.80 C225.80,508.87 232.17,508.28 237.40,507.40 C242.63,506.52 244.13,506.23 251.40,505.50 C258.67,504.77 270.93,503.68 281.00,503.00 C291.07,502.32 301.63,501.83 311.80,501.40 C321.97,500.97 331.87,500.72 342.00,500.40 C352.13,500.08 362.60,499.77 372.60,499.50 C382.60,499.23 397.10,498.92 402.00,498.80" fill="none" stroke="#d52b2b" stroke-width="1.6" stroke-dasharray="7 3.5"/>
<path d="M158.80,575.00 C159.67,574.08 162.13,571.50 164.00,569.50 C165.87,567.50 168.17,565.25 170.00,563.00 C171.83,560.75 173.43,558.33 175.00,556.00 C176.57,553.67 178.07,551.17 179.40,549.00 C180.73,546.83 181.93,544.68 183.00,543.00 C184.07,541.32 185.33,539.58 185.80,538.90 L222,538.9" fill="none" stroke="#d52b2b" stroke-width="1.6" stroke-dasharray="7 3.5"/>
<g stroke="#2e2a28" stroke-width="0.15">
<text x="325.7" y="510.2" font-size="5.3" fill="#2e2a28" textLength="51.5" lengthAdjust="spacingAndGlyphs">CHARGED VOLUME</text>
<text x="287" y="532.3" font-size="5.3" fill="#2e2a28" textLength="50.3" lengthAdjust="spacingAndGlyphs">CHARGE VOLTAGE</text>
<text x="286" y="537.4" font-size="4.6" fill="#2e2a28" textLength="52" lengthAdjust="spacingAndGlyphs">(Constant 2.25v/c ell)</text>
<text x="326" y="608.8" font-size="5.3" fill="#2e2a28" textLength="49.5" lengthAdjust="spacingAndGlyphs">CHARGING CURRENT</text>
<line x1="290.4" y1="557" x2="311" y2="557" stroke="#d52b2b" stroke-width="1.4" stroke-dasharray="6.5 3"/>
<text x="314.8" y="558.8" font-size="5.3" fill="#2e2a28" textLength="65" lengthAdjust="spacingAndGlyphs">AFTER 50% DISCHARGE</text>
<line x1="290.4" y1="568.2" x2="312.5" y2="568.2" stroke="#1c1815" stroke-width="1.3" />
<text x="313.6" y="570" font-size="5.3" fill="#2e2a28" textLength="68.5" lengthAdjust="spacingAndGlyphs">AFTER 100% DISCHARGE</text>
</g>
<text x="364.3" y="585.3" font-size="10.5" fill="#d52b2b">C</text>
<text x="371.7" y="585.3" font-size="9" fill="#d52b2b">=</text>
<text x="377.3" y="585.3" font-size="10.5" fill="#d52b2b">C</text>
<text x="384.6" y="585.3" font-size="7.6" fill="#d52b2b" textLength="8.5" lengthAdjust="spacingAndGlyphs">20</text>
</g>
<g id="sec_discharge">
<rect x="544.5" y="476.9" width="281.29999999999995" height="138.60000000000002" fill="#efefef" stroke="none" stroke-width="1" rx="0" />
<line x1="568.1" y1="476.9" x2="568.1" y2="615.5" stroke="#2e2a28" stroke-width="0.55" />
<line x1="593.9" y1="476.9" x2="593.9" y2="615.5" stroke="#2e2a28" stroke-width="0.55" />
<line x1="609.0" y1="476.9" x2="609.0" y2="615.5" stroke="#2e2a28" stroke-width="0.55" />
<line x1="619.9" y1="476.9" x2="619.9" y2="615.5" stroke="#2e2a28" stroke-width="0.55" />
<line x1="630.4" y1="476.9" x2="630.4" y2="615.5" stroke="#2e2a28" stroke-width="0.55" />
<line x1="653.3" y1="476.9" x2="653.3" y2="615.5" stroke="#2e2a28" stroke-width="0.55" />
<line x1="679.9" y1="476.9" x2="679.9" y2="615.5" stroke="#2e2a28" stroke-width="0.55" />
<line x1="694.8" y1="476.9" x2="694.8" y2="615.5" stroke="#2e2a28" stroke-width="0.55" />
<line x1="720.6" y1="476.9" x2="720.6" y2="615.5" stroke="#2e2a28" stroke-width="0.55" />
<line x1="746.9" y1="476.9" x2="746.9" y2="615.5" stroke="#2e2a28" stroke-width="0.55" />
<line x1="762.0" y1="476.9" x2="762.0" y2="615.5" stroke="#2e2a28" stroke-width="0.55" />
<line x1="773.4" y1="476.9" x2="773.4" y2="615.5" stroke="#2e2a28" stroke-width="0.55" />
<line x1="782.4" y1="476.9" x2="782.4" y2="615.5" stroke="#2e2a28" stroke-width="0.55" />
<line x1="807.5" y1="476.9" x2="807.5" y2="615.5" stroke="#2e2a28" stroke-width="0.55" />
<line x1="544.5" y1="499.6" x2="825.8" y2="499.6" stroke="#2e2a28" stroke-width="0.55" />
<line x1="544.5" y1="522.8" x2="825.8" y2="522.8" stroke="#2e2a28" stroke-width="0.55" />
<line x1="544.5" y1="546.4" x2="825.8" y2="546.4" stroke="#2e2a28" stroke-width="0.55" />
<line x1="544.5" y1="569.3" x2="825.8" y2="569.3" stroke="#2e2a28" stroke-width="0.55" />
<line x1="544.5" y1="592.2" x2="825.8" y2="592.2" stroke="#2e2a28" stroke-width="0.55" />
<rect x="544.5" y="476.9" width="281.29999999999995" height="138.60000000000002" fill="none" stroke="#3a3634" stroke-width="1.1" rx="0" />
<line x1="544.5" y1="615.5" x2="825.8" y2="615.5" stroke="#1c1815" stroke-width="1.5" />
<line x1="544.5" y1="476.9" x2="544.5" y2="615.5" stroke="#1c1815" stroke-width="1.5" />
<text x="542.5" y="481.09999999999997" font-size="10" fill="#2e2a28" textLength="27.5" lengthAdjust="spacingAndGlyphs" text-anchor="end">13.0</text>
<text x="542.5" y="503.8" font-size="10" fill="#2e2a28" textLength="27.5" lengthAdjust="spacingAndGlyphs" text-anchor="end">12.0</text>
<text x="542.5" y="527.0" font-size="10" fill="#2e2a28" textLength="27.5" lengthAdjust="spacingAndGlyphs" text-anchor="end">11.0</text>
<text x="542.5" y="550.6" font-size="10" fill="#2e2a28" textLength="27.5" lengthAdjust="spacingAndGlyphs" text-anchor="end">10.0</text>
<text x="542.5" y="573.5" font-size="10" fill="#2e2a28" textLength="20.5" lengthAdjust="spacingAndGlyphs" text-anchor="end">9.0</text>
<text x="542.5" y="596.4000000000001" font-size="10" fill="#2e2a28" textLength="20.5" lengthAdjust="spacingAndGlyphs" text-anchor="end">8.0</text>
<text x="503" y="552" font-size="10.2" fill="#2e2a28" textLength="84" lengthAdjust="spacingAndGlyphs" text-anchor="middle" transform="rotate(-90 503 552)">Terminal Voltage(V)</text>
<text x="713.8" y="473.2" font-size="10.2" fill="#2e2a28" textLength="111" lengthAdjust="spacingAndGlyphs">Temperature 25 C</text>
<text x="810.2" y="468.3" font-size="7.6" fill="#2e2a28">o</text>
<text x="544" y="624.7" font-size="6.6" fill="#2e2a28" textLength="4.3" lengthAdjust="spacingAndGlyphs" text-anchor="middle">1</text>
<text x="568" y="624.7" font-size="6.6" fill="#2e2a28" textLength="4.3" lengthAdjust="spacingAndGlyphs" text-anchor="middle">2</text>
<text x="594" y="624.7" font-size="6.6" fill="#2e2a28" textLength="4.3" lengthAdjust="spacingAndGlyphs" text-anchor="middle">4</text>
<text x="609.3" y="624.7" font-size="6.6" fill="#2e2a28" textLength="4.3" lengthAdjust="spacingAndGlyphs" text-anchor="middle">6</text>
<text x="620.3" y="624.7" font-size="6.6" fill="#2e2a28" textLength="4.3" lengthAdjust="spacingAndGlyphs" text-anchor="middle">8</text>
<text x="632" y="624.7" font-size="6.6" fill="#2e2a28" textLength="10.5" lengthAdjust="spacingAndGlyphs" text-anchor="middle">10</text>
<text x="654" y="624.7" font-size="6.6" fill="#2e2a28" textLength="10.5" lengthAdjust="spacingAndGlyphs" text-anchor="middle">20</text>
<text x="680.5" y="624.7" font-size="6.6" fill="#2e2a28" textLength="10.5" lengthAdjust="spacingAndGlyphs" text-anchor="middle">40</text>
<text x="696.5" y="624.7" font-size="6.6" fill="#2e2a28" textLength="10.5" lengthAdjust="spacingAndGlyphs" text-anchor="middle">60</text>
<text x="721" y="624.7" font-size="6.6" fill="#2e2a28" textLength="4.3" lengthAdjust="spacingAndGlyphs" text-anchor="middle">2</text>
<text x="747" y="624.7" font-size="6.6" fill="#2e2a28" textLength="4.3" lengthAdjust="spacingAndGlyphs" text-anchor="middle">4</text>
<text x="762" y="624.7" font-size="6.6" fill="#2e2a28" textLength="4.3" lengthAdjust="spacingAndGlyphs" text-anchor="middle">6</text>
<text x="773.3" y="624.7" font-size="6.6" fill="#2e2a28" textLength="4.3" lengthAdjust="spacingAndGlyphs" text-anchor="middle">8</text>
<text x="785" y="624.7" font-size="6.6" fill="#2e2a28" textLength="10.5" lengthAdjust="spacingAndGlyphs" text-anchor="middle">10</text>
<text x="808.5" y="624.7" font-size="6.6" fill="#2e2a28" textLength="10.5" lengthAdjust="spacingAndGlyphs" text-anchor="middle">20</text>
<line x1="544.5" y1="626.3" x2="544.5" y2="632" stroke="#4a4644" stroke-width="0.6" />
<line x1="695" y1="626.3" x2="695" y2="632" stroke="#4a4644" stroke-width="0.6" />
<line x1="826" y1="626.3" x2="826" y2="632" stroke="#4a4644" stroke-width="0.6" />
<path d="M546,629.2 l9,-1.5 v3 Z" fill="#1c1815" stroke="none" stroke-width="1" />
<line x1="554" y1="629.2" x2="610" y2="629.2" stroke="#4a4644" stroke-width="0.6" />
<text x="611" y="631.5" font-size="6.6" fill="#2e2a28" textLength="16" lengthAdjust="spacingAndGlyphs">min</text>
<line x1="628" y1="629.2" x2="685" y2="629.2" stroke="#4a4644" stroke-width="0.6" />
<path d="M694,629.2 l-9,-1.5 v3 Z" fill="#1c1815" stroke="none" stroke-width="1" />
<path d="M697,629.2 l9,-1.5 v3 Z" fill="#1c1815" stroke="none" stroke-width="1" />
<line x1="705" y1="629.2" x2="747" y2="629.2" stroke="#4a4644" stroke-width="0.6" />
<text x="757.5" y="631.6" font-size="6.6" fill="#2e2a28" textLength="6" lengthAdjust="spacingAndGlyphs">H</text>
<line x1="771" y1="629.2" x2="813" y2="629.2" stroke="#4a4644" stroke-width="0.6" />
<path d="M822.5,629.2 l-9,-1.5 v3 Z" fill="#1c1815" stroke="none" stroke-width="1" />
<text x="673" y="648.6" font-size="10.8" fill="#2e2a28" textLength="82" lengthAdjust="spacingAndGlyphs" text-anchor="middle">Discharge Time</text>
<path d="M546.90,506.80 C549.42,506.93 556.93,507.23 562.00,507.60 C567.07,507.97 571.90,508.03 577.30,509.00 C582.70,509.97 589.12,511.65 594.40,513.40 C599.68,515.15 604.95,517.07 609.00,519.50 C613.05,521.93 615.87,524.55 618.70,528.00 C621.53,531.45 624.22,536.53 626.00,540.20 C627.78,543.87 628.67,547.25 629.40,550.00 C630.13,552.75 630.23,555.58 630.40,556.70" fill="none" stroke="#1c1815" stroke-width="1.6" />
<path d="M546.90,500.00 C550.75,500.03 562.08,500.07 570.00,500.20 C577.92,500.33 586.68,500.22 594.40,500.80 C602.12,501.38 610.22,502.42 616.30,503.70 C622.38,504.98 626.45,506.28 630.90,508.50 C635.35,510.72 639.35,513.35 643.00,517.00 C646.65,520.65 650.15,525.93 652.80,530.40 C655.45,534.87 657.28,539.73 658.90,543.80 C660.52,547.87 661.90,552.97 662.50,554.80" fill="none" stroke="#1c1815" stroke-width="1.6" />
<path d="M546.90,497.60 C552.42,497.65 568.43,497.70 580.00,497.90 C591.57,498.10 605.38,498.03 616.30,498.80 C627.22,499.57 637.38,500.67 645.50,502.50 C653.62,504.33 659.75,506.97 665.00,509.80 C670.25,512.63 673.57,516.07 677.00,519.50 C680.43,522.93 683.50,527.15 685.60,530.40 C687.70,533.65 688.70,536.77 689.60,539.00 C690.50,541.23 690.77,543.00 691.00,543.80" fill="none" stroke="#1c1815" stroke-width="1.6" />
<path d="M546.90,495.20 C554.08,495.23 576.15,495.23 590.00,495.40 C603.85,495.57 619.17,495.80 630.00,496.20 C640.83,496.60 648.33,497.17 655.00,497.80 C661.67,498.43 665.17,499.00 670.00,500.00 C674.83,501.00 679.95,502.30 684.00,503.80 C688.05,505.30 691.30,507.22 694.30,509.00 C697.30,510.78 699.97,512.75 702.00,514.50 C704.03,516.25 705.00,517.33 706.50,519.50 C708.00,521.67 709.85,525.25 711.00,527.50 C712.15,529.75 712.85,531.37 713.40,533.00 C713.95,534.63 714.15,536.58 714.30,537.30" fill="none" stroke="#1c1815" stroke-width="1.6" />
<path d="M546.90,492.00 C555.75,492.05 583.65,492.10 600.00,492.30 C616.35,492.50 633.33,492.80 645.00,493.20 C656.67,493.60 661.78,493.77 670.00,494.70 C678.22,495.63 686.18,496.70 694.30,498.80 C702.42,500.90 712.20,504.27 718.70,507.30 C725.20,510.33 729.48,513.95 733.30,517.00 C737.12,520.05 739.58,523.15 741.60,525.60 C743.62,528.05 744.77,530.68 745.40,531.70" fill="none" stroke="#1c1815" stroke-width="1.6" />
<path d="M546.90,489.10 C557.42,489.13 589.48,489.10 610.00,489.30 C630.52,489.50 655.00,489.77 670.00,490.30 C685.00,490.83 691.88,491.68 700.00,492.50 C708.12,493.32 711.53,493.53 718.70,495.20 C725.87,496.87 735.70,499.67 743.00,502.50 C750.30,505.33 757.43,509.17 762.50,512.20 C767.57,515.23 770.68,518.23 773.40,520.70 C776.12,523.17 777.90,525.95 778.80,527.00" fill="none" stroke="#1c1815" stroke-width="1.6" />
<path d="M546.90,486.20 C559.08,486.22 599.48,486.20 620.00,486.30 C640.52,486.40 656.67,486.52 670.00,486.80 C683.33,487.08 691.88,487.58 700.00,488.00 C708.12,488.42 710.72,488.30 718.70,489.30 C726.68,490.30 738.98,491.80 747.90,494.00 C756.82,496.20 764.90,499.27 772.20,502.50 C779.50,505.73 786.63,510.15 791.70,513.40 C796.77,516.65 799.97,519.80 802.60,522.00 C805.23,524.20 806.68,525.83 807.50,526.60" fill="none" stroke="#1c1815" stroke-width="1.6" />
<path d="M630.4,556.7 L637,557.2 C638.50,557.27 643.00,557.63 646.00,557.60 C649.00,557.57 652.25,557.47 655.00,557.00 C657.75,556.53 661.25,555.17 662.50,554.80 L691,543.8 L714.3,537.3 L745.4,531.7 L778.8,527 L807.5,526.6" fill="none" stroke="#1c1815" stroke-width="1.5" stroke-dasharray="6.5 3.5"/>
<text x="627" y="562.6" font-size="5.8" fill="#d52b2b" textLength="11" lengthAdjust="spacingAndGlyphs">2C</text>
<text x="660" y="562.2" font-size="5.8" fill="#d52b2b" textLength="11.5" lengthAdjust="spacingAndGlyphs">1C</text>
<text x="689" y="552" font-size="5.8" fill="#d52b2b" textLength="20" lengthAdjust="spacingAndGlyphs">0.6C</text>
<text x="711.4" y="546.8" font-size="5.8" fill="#d52b2b" textLength="20.5" lengthAdjust="spacingAndGlyphs">0.4C</text>
<text x="741.3" y="538.3" font-size="5.8" fill="#d52b2b" textLength="20.5" lengthAdjust="spacingAndGlyphs">0.2C</text>
<text x="774" y="534.4" font-size="5.8" fill="#d52b2b" textLength="20.5" lengthAdjust="spacingAndGlyphs">0.1C</text>
<text x="801" y="533.7" font-size="5.8" fill="#d52b2b" textLength="25.5" lengthAdjust="spacingAndGlyphs">0.05C</text>
<text x="785.6" y="603.6" font-size="10.5" fill="#d52b2b" textLength="25" lengthAdjust="spacingAndGlyphs">C=C</text>
<text x="810.3" y="603.6" font-size="7.6" fill="#d52b2b" textLength="11" lengthAdjust="spacingAndGlyphs">20</text>
</g>
<g id="sec_temp">
<rect x="110.2" y="713.5" width="277.3" height="154.89999999999998" fill="#efefef" stroke="none" stroke-width="1" rx="0" />
<line x1="110.2" y1="723.18" x2="387.5" y2="723.18" stroke="#3a3634" stroke-width="0.7" />
<line x1="110.2" y1="732.86" x2="387.5" y2="732.86" stroke="#3a3634" stroke-width="0.7" />
<line x1="110.2" y1="742.54" x2="387.5" y2="742.54" stroke="#3a3634" stroke-width="0.7" />
<line x1="110.2" y1="752.23" x2="387.5" y2="752.23" stroke="#3a3634" stroke-width="0.7" />
<line x1="110.2" y1="761.91" x2="387.5" y2="761.91" stroke="#3a3634" stroke-width="0.7" />
<line x1="110.2" y1="771.59" x2="387.5" y2="771.59" stroke="#3a3634" stroke-width="0.7" />
<line x1="110.2" y1="781.27" x2="387.5" y2="781.27" stroke="#3a3634" stroke-width="0.7" />
<line x1="110.2" y1="790.95" x2="387.5" y2="790.95" stroke="#3a3634" stroke-width="0.7" />
<line x1="110.2" y1="800.63" x2="387.5" y2="800.63" stroke="#3a3634" stroke-width="0.7" />
<line x1="110.2" y1="810.31" x2="387.5" y2="810.31" stroke="#3a3634" stroke-width="0.7" />
<line x1="110.2" y1="819.99" x2="387.5" y2="819.99" stroke="#3a3634" stroke-width="0.7" />
<line x1="110.2" y1="829.67" x2="387.5" y2="829.67" stroke="#3a3634" stroke-width="0.7" />
<line x1="110.2" y1="839.36" x2="387.5" y2="839.36" stroke="#3a3634" stroke-width="0.7" />
<line x1="110.2" y1="849.04" x2="387.5" y2="849.04" stroke="#3a3634" stroke-width="0.7" />
<line x1="110.2" y1="858.72" x2="387.5" y2="858.72" stroke="#3a3634" stroke-width="0.7" />
<line x1="137.93" y1="713.5" x2="137.93" y2="868.4" stroke="#3a3634" stroke-width="0.7" />
<line x1="165.66" y1="713.5" x2="165.66" y2="868.4" stroke="#3a3634" stroke-width="0.7" />
<line x1="193.39" y1="713.5" x2="193.39" y2="868.4" stroke="#3a3634" stroke-width="0.7" />
<line x1="221.12" y1="713.5" x2="221.12" y2="868.4" stroke="#3a3634" stroke-width="0.7" />
<line x1="248.85" y1="713.5" x2="248.85" y2="868.4" stroke="#3a3634" stroke-width="0.7" />
<line x1="276.58" y1="713.5" x2="276.58" y2="868.4" stroke="#3a3634" stroke-width="0.7" />
<line x1="304.31" y1="713.5" x2="304.31" y2="868.4" stroke="#3a3634" stroke-width="0.7" />
<line x1="332.04" y1="713.5" x2="332.04" y2="868.4" stroke="#3a3634" stroke-width="0.7" />
<line x1="359.77" y1="713.5" x2="359.77" y2="868.4" stroke="#3a3634" stroke-width="0.7" />
<rect x="110.2" y="713.5" width="277.3" height="154.89999999999998" fill="none" stroke="#3a3634" stroke-width="0.9" rx="0" />
<text x="106.2" y="715.9" font-size="6.2" fill="#2e2a28" textLength="8.3" lengthAdjust="spacingAndGlyphs" text-anchor="end">110</text>
<text x="106.2" y="735.2624999999999" font-size="6.2" fill="#2e2a28" textLength="8.3" lengthAdjust="spacingAndGlyphs" text-anchor="end">100</text>
<text x="106.2" y="754.625" font-size="6.2" fill="#2e2a28" textLength="5.7" lengthAdjust="spacingAndGlyphs" text-anchor="end">90</text>
<text x="106.2" y="773.9875" font-size="6.2" fill="#2e2a28" textLength="5.7" lengthAdjust="spacingAndGlyphs" text-anchor="end">80</text>
<text x="106.2" y="793.35" font-size="6.2" fill="#2e2a28" textLength="5.7" lengthAdjust="spacingAndGlyphs" text-anchor="end">70</text>
<text x="106.2" y="812.7125" font-size="6.2" fill="#2e2a28" textLength="5.7" lengthAdjust="spacingAndGlyphs" text-anchor="end">60</text>
<text x="106.2" y="832.0749999999999" font-size="6.2" fill="#2e2a28" textLength="5.7" lengthAdjust="spacingAndGlyphs" text-anchor="end">50</text>
<text x="106.2" y="851.4374999999999" font-size="6.2" fill="#2e2a28" textLength="5.7" lengthAdjust="spacingAndGlyphs" text-anchor="end">40</text>
<text x="106.2" y="870.8" font-size="6.2" fill="#2e2a28" textLength="5.7" lengthAdjust="spacingAndGlyphs" text-anchor="end">30</text>
<text x="110.2" y="880.4" font-size="6.2" fill="#2e2a28" textLength="8.4" lengthAdjust="spacingAndGlyphs" text-anchor="middle">-20</text>
<text x="137.9" y="880.4" font-size="6.2" fill="#2e2a28" textLength="8.4" lengthAdjust="spacingAndGlyphs" text-anchor="middle">-15</text>
<text x="165.7" y="880.4" font-size="6.2" fill="#2e2a28" textLength="8.4" lengthAdjust="spacingAndGlyphs" text-anchor="middle">-10</text>
<text x="193.4" y="880.4" font-size="6.2" fill="#2e2a28" textLength="6.2" lengthAdjust="spacingAndGlyphs" text-anchor="middle">-5</text>
<text x="221.1" y="880.4" font-size="6.2" fill="#2e2a28" textLength="3.2" lengthAdjust="spacingAndGlyphs" text-anchor="middle">0</text>
<text x="248.9" y="880.4" font-size="6.2" fill="#2e2a28" textLength="3.2" lengthAdjust="spacingAndGlyphs" text-anchor="middle">5</text>
<text x="276.6" y="880.4" font-size="6.2" fill="#2e2a28" textLength="6.2" lengthAdjust="spacingAndGlyphs" text-anchor="middle">10</text>
<text x="304.3" y="880.4" font-size="6.2" fill="#2e2a28" textLength="6.2" lengthAdjust="spacingAndGlyphs" text-anchor="middle">15</text>
<text x="332.0" y="880.4" font-size="6.2" fill="#2e2a28" textLength="6.2" lengthAdjust="spacingAndGlyphs" text-anchor="middle">20</text>
<text x="359.8" y="880.4" font-size="6.2" fill="#2e2a28" textLength="6.2" lengthAdjust="spacingAndGlyphs" text-anchor="middle">25</text>
<text x="387.5" y="880.4" font-size="6.2" fill="#2e2a28" textLength="6.2" lengthAdjust="spacingAndGlyphs" text-anchor="middle">30</text>
<text x="70.4" y="796.8" font-size="10" fill="#2e2a28" textLength="83" lengthAdjust="spacingAndGlyphs" text-anchor="middle" transform="rotate(-90 70.4 796.8)">Available capacity / %</text>
<text x="183" y="895" font-size="11" fill="#2e2a28" textLength="106.5" lengthAdjust="spacingAndGlyphs">Battery temperature/</text>
<text x="291.4" y="895" font-size="11.5" fill="#2e2a28" textLength="9.2" lengthAdjust="spacingAndGlyphs" font-family='"Liberation Sans", "Noto Sans CJK SC", sans-serif'>℃</text>
<line x1="110.2" y1="733.2" x2="387.5" y2="733.2" stroke="#1c1815" stroke-width="1.9" stroke-dasharray="8.4 3.7" stroke-dashoffset="2"/>
<path d="M110.20,786.60 C119.44,784.08 147.17,776.18 165.66,771.50 C184.15,766.82 207.25,761.70 221.12,758.50 C234.99,755.30 239.61,754.30 248.85,752.30 C258.09,750.30 267.34,748.33 276.58,746.50 C285.82,744.67 295.07,742.85 304.31,741.30 C313.55,739.75 322.80,738.50 332.04,737.20 C341.28,735.90 350.53,734.72 359.77,733.50 C369.01,732.28 382.88,730.50 387.50,729.90" fill="none" stroke="#fff100" stroke-width="1.9" />
<path d="M110.20,798.00 C119.44,795.80 147.17,788.93 165.66,784.80 C184.15,780.67 202.63,776.88 221.12,773.20 C239.61,769.52 258.09,766.00 276.58,762.70 C295.07,759.40 313.55,756.30 332.04,753.40 C350.53,750.50 378.26,746.65 387.50,745.30" fill="none" stroke="#1d1a7a" stroke-width="1.9" />
<path d="M110.20,825.00 C119.44,822.87 147.17,816.38 165.66,812.20 C184.15,808.02 202.63,803.97 221.12,799.90 C239.61,795.83 258.09,791.48 276.58,787.80 C295.07,784.12 313.55,781.10 332.04,777.80 C350.53,774.50 378.26,769.63 387.50,768.00" fill="none" stroke="#079a46" stroke-width="1.9" />
<path d="M110.20,848.00 C119.44,845.48 147.17,837.63 165.66,832.90 C184.15,828.17 202.63,823.87 221.12,819.60 C239.61,815.33 258.09,811.28 276.58,807.30 C295.07,803.32 313.55,799.38 332.04,795.70 C350.53,792.02 378.26,786.95 387.50,785.20" fill="none" stroke="#f8b500" stroke-width="1.9" />
<path d="M145.97,867.70 C149.25,866.35 157.76,862.38 165.66,859.60 C173.56,856.82 184.15,853.78 193.39,851.00 C202.63,848.22 211.88,845.42 221.12,842.90 C230.36,840.38 239.61,838.05 248.85,835.90 C258.09,833.75 267.34,831.82 276.58,830.00 C285.82,828.18 295.07,826.67 304.31,825.00 C313.55,823.33 322.80,821.67 332.04,820.00 C341.28,818.33 350.53,816.68 359.77,815.00 C369.01,813.32 382.88,810.75 387.50,809.90" fill="none" stroke="#d5261d" stroke-width="1.9" />
<line x1="359.3" y1="713.5" x2="359.3" y2="868.4" stroke="#1c1815" stroke-width="1.9" stroke-dasharray="8.4 3.7"/>
<rect x="325.2" y="821.0" width="28.2" height="42.6" fill="none" stroke="#2a2624" stroke-width="0.8" rx="0" />
<line x1="329.0" y1="826.2" x2="339.5" y2="826.2" stroke="#ffff5a" stroke-width="1.9" />
<text x="339.9" y="828.8000000000001" font-size="7.0" fill="#2e2a28" textLength="10" lengthAdjust="spacingAndGlyphs">C20</text>
<line x1="329.0" y1="833.0" x2="339.5" y2="833.0" stroke="#2b2a92" stroke-width="1.9" />
<text x="339.9" y="835.6" font-size="7.0" fill="#2e2a28" textLength="10" lengthAdjust="spacingAndGlyphs">C10</text>
<line x1="329.0" y1="841.2" x2="339.5" y2="841.2" stroke="#14dc46" stroke-width="1.9" />
<text x="339.9" y="843.8000000000001" font-size="7.0" fill="#2e2a28" textLength="6.6" lengthAdjust="spacingAndGlyphs">C5</text>
<line x1="329.0" y1="849.4" x2="339.5" y2="849.4" stroke="#ffc20a" stroke-width="1.9" />
<text x="339.9" y="852.0" font-size="7.0" fill="#2e2a28" textLength="6.6" lengthAdjust="spacingAndGlyphs">C3</text>
<line x1="329.0" y1="858.0" x2="339.5" y2="858.0" stroke="#e0261f" stroke-width="1.9" />
<text x="339.9" y="860.6" font-size="7.0" fill="#2e2a28" textLength="6.6" lengthAdjust="spacingAndGlyphs">C1</text>
</g>
<g id="sec_life">
<rect x="547.4" y="712.8" width="284.5" height="154.30000000000007" fill="#f0f0f0" stroke="none" stroke-width="1" rx="0" />
<line x1="604.3" y1="712.8" x2="604.3" y2="867.1" stroke="#77726f" stroke-width="0.9" />
<line x1="661.2" y1="712.8" x2="661.2" y2="867.1" stroke="#77726f" stroke-width="0.9" />
<line x1="717.6" y1="712.8" x2="717.6" y2="867.1" stroke="#77726f" stroke-width="0.9" />
<line x1="774.5" y1="712.8" x2="774.5" y2="867.1" stroke="#77726f" stroke-width="0.9" />
<line x1="547.4" y1="728.3" x2="831.9" y2="728.3" stroke="#77726f" stroke-width="0.9" />
<line x1="547.4" y1="745.3" x2="831.9" y2="745.3" stroke="#77726f" stroke-width="0.9" />
<line x1="547.4" y1="795.2" x2="831.9" y2="795.2" stroke="#77726f" stroke-width="0.9" />
<line x1="547.4" y1="831.7" x2="831.9" y2="831.7" stroke="#77726f" stroke-width="0.9" />
<line x1="547.4" y1="837.5" x2="831.9" y2="837.5" stroke="#77726f" stroke-width="0.9" />
<line x1="547.4" y1="843.3" x2="831.9" y2="843.3" stroke="#77726f" stroke-width="0.9" />
<line x1="547.4" y1="849.8" x2="831.9" y2="849.8" stroke="#77726f" stroke-width="0.9" />
<line x1="547.4" y1="857.9" x2="831.9" y2="857.9" stroke="#77726f" stroke-width="0.9" />
<line x1="547.4" y1="763.9" x2="726.5" y2="763.9" stroke="#77726f" stroke-width="0.9" />
<line x1="816" y1="760.2" x2="831.9" y2="760.2" stroke="#77726f" stroke-width="0.9" />
<rect x="547.4" y="712.8" width="284.5" height="154.30000000000007" fill="none" stroke="#5e5a57" stroke-width="1.0" rx="0" />
<text x="544.6" y="731.6999999999999" font-size="9.6" fill="#2e2a28" textLength="11.5" lengthAdjust="spacingAndGlyphs" text-anchor="end">14</text>
<text x="544.6" y="748.6999999999999" font-size="9.6" fill="#2e2a28" textLength="11.5" lengthAdjust="spacingAndGlyphs" text-anchor="end">12</text>
<text x="544.6" y="767.3" font-size="9.6" fill="#2e2a28" textLength="11.5" lengthAdjust="spacingAndGlyphs" text-anchor="end">10</text>
<text x="544.6" y="798.6" font-size="9.6" fill="#2e2a28" textLength="6" lengthAdjust="spacingAndGlyphs" text-anchor="end">5</text>
<text x="544.6" y="835.1" font-size="9.6" fill="#2e2a28" textLength="6" lengthAdjust="spacingAndGlyphs" text-anchor="end">2</text>
<text x="544.6" y="870.1999999999999" font-size="9.6" fill="#2e2a28" textLength="14" lengthAdjust="spacingAndGlyphs" text-anchor="end">0.5</text>
<path d="M604.30,735.50 C605.58,735.87 609.37,736.85 612.00,737.70 C614.63,738.55 616.43,738.98 620.10,740.60 C623.77,742.22 629.35,745.12 634.00,747.40 C638.65,749.68 643.47,752.07 648.00,754.30 C652.53,756.53 659.00,759.72 661.20,760.80 L700,780.1 L774.5,816.8 L774.5,837.5 L700,799.4 L661.2,779 C658.50,777.58 649.53,772.83 645.00,770.50 C640.47,768.17 638.15,766.87 634.00,765.00 C629.85,763.13 623.77,760.62 620.10,759.30 C616.43,757.98 614.63,757.77 612.00,757.10 C609.37,756.43 605.58,755.60 604.30,755.30 Z" fill="#3e3a38" stroke="#3e3a38" stroke-width="0.5" />
<text x="605.3" y="877.9" font-size="9.6" fill="#2e2a28" textLength="11.4" lengthAdjust="spacingAndGlyphs" text-anchor="middle">20</text>
<text x="605.6" y="886.0" font-size="9.6" fill="#2e2a28" textLength="11.6" lengthAdjust="spacingAndGlyphs" text-anchor="middle">68</text>
<text x="661.7" y="877.9" font-size="9.6" fill="#2e2a28" textLength="11.4" lengthAdjust="spacingAndGlyphs" text-anchor="middle">30</text>
<text x="662" y="886.0" font-size="9.6" fill="#2e2a28" textLength="11.6" lengthAdjust="spacingAndGlyphs" text-anchor="middle">86</text>
<text x="719" y="877.9" font-size="9.6" fill="#2e2a28" textLength="11.4" lengthAdjust="spacingAndGlyphs" text-anchor="middle">40</text>
<text x="720.7" y="886.0" font-size="9.6" fill="#2e2a28" textLength="17.4" lengthAdjust="spacingAndGlyphs" text-anchor="middle">104</text>
<text x="774.4" y="877.9" font-size="9.6" fill="#2e2a28" textLength="11.4" lengthAdjust="spacingAndGlyphs" text-anchor="middle">50</text>
<text x="776.5" y="886.0" font-size="9.6" fill="#2e2a28" textLength="17.4" lengthAdjust="spacingAndGlyphs" text-anchor="middle">122</text>
<text x="793.6" y="878.8" font-size="9.6" fill="#2e2a28" textLength="7.3" lengthAdjust="spacingAndGlyphs">C</text>
<text x="793.8" y="886.5" font-size="9.6" fill="#2e2a28" textLength="6.6" lengthAdjust="spacingAndGlyphs">F</text>
<text x="789.4" y="880.6" font-size="12.5" fill="#2e2a28">°</text>
<text x="788.4" y="887.6" font-size="12.5" fill="#2e2a28">°</text>
<text x="666.5" y="896.4" font-size="9.6" fill="#2e2a28" textLength="84" lengthAdjust="spacingAndGlyphs" text-anchor="middle">Battery temperature</text>
<text x="511.5" y="791" font-size="10.3" fill="#2e2a28" textLength="97" lengthAdjust="spacingAndGlyphs" text-anchor="middle" transform="rotate(-90 511.5 791)">Life expectancy(year)</text>
<text x="731.6" y="761" font-size="10" fill="#2e2a28" textLength="78" lengthAdjust="spacingAndGlyphs">Charging voltage</text>
<text x="750.8" y="770.5" font-size="10" fill="#2e2a28" textLength="45.5" lengthAdjust="spacingAndGlyphs">2.25V/cell</text>
</g>
<g id="sec_cycle">
<rect x="112.0" y="994.9" width="274.0" height="144.10000000000002" fill="#efefef" stroke="none" stroke-width="1" rx="0" />
<line x1="151.4" y1="994.9" x2="151.4" y2="1139.0" stroke="#3a3430" stroke-width="0.9" />
<line x1="191.6" y1="994.9" x2="191.6" y2="1139.0" stroke="#3a3430" stroke-width="0.9" />
<line x1="232.1" y1="994.9" x2="232.1" y2="1139.0" stroke="#3a3430" stroke-width="0.9" />
<line x1="272.5" y1="994.9" x2="272.5" y2="1139.0" stroke="#3a3430" stroke-width="0.9" />
<line x1="312.5" y1="994.9" x2="312.5" y2="1139.0" stroke="#3a3430" stroke-width="0.9" />
<line x1="351.7" y1="994.9" x2="351.7" y2="1139.0" stroke="#3a3430" stroke-width="0.9" />
<line x1="112.0" y1="1004.8" x2="386.0" y2="1004.8" stroke="#3a3430" stroke-width="0.9" />
<line x1="112.0" y1="1027.4" x2="386.0" y2="1027.4" stroke="#3a3430" stroke-width="0.9" />
<line x1="112.0" y1="1050.0" x2="386.0" y2="1050.0" stroke="#3a3430" stroke-width="0.9" />
<line x1="112.0" y1="1072.3" x2="386.0" y2="1072.3" stroke="#3a3430" stroke-width="0.9" />
<line x1="112.0" y1="1094.9" x2="386.0" y2="1094.9" stroke="#3a3430" stroke-width="0.9" />
<line x1="112.0" y1="1117.0" x2="386.0" y2="1117.0" stroke="#3a3430" stroke-width="0.9" />
<rect x="112.0" y="994.9" width="274.0" height="144.10000000000002" fill="none" stroke="#3a3430" stroke-width="1.1" rx="0" />
<text x="158.9" y="953.8" font-size="9.3" fill="#2e2a28" textLength="77.5" lengthAdjust="spacingAndGlyphs" stroke="#2e2a28" stroke-width="0.22">Testing condition</text>
<text x="158.9" y="964.8" font-size="9.3" fill="#2e2a28" textLength="186" lengthAdjust="spacingAndGlyphs" stroke="#2e2a28" stroke-width="0.22">Discharging:current 0.17C (FV 1.7V/cell);</text>
<text x="158.9" y="975.9" font-size="9.3" fill="#2e2a28" textLength="216" lengthAdjust="spacingAndGlyphs" stroke="#2e2a28" stroke-width="0.22">Charging:current 0.25C max, voltage 2.45V/cell;</text>
<text x="158.9" y="987.0" font-size="9.3" fill="#2e2a28" textLength="208.5" lengthAdjust="spacingAndGlyphs" stroke="#2e2a28" stroke-width="0.22">Charging volume:125% of discharged capacity.</text>
<text x="108.2" y="1008.0" font-size="8.8" fill="#2e2a28" textLength="17.3" lengthAdjust="spacingAndGlyphs" text-anchor="end" stroke="#2e2a28" stroke-width="0.22">120</text>
<text x="108.2" y="1030.6000000000001" font-size="8.8" fill="#2e2a28" textLength="17.3" lengthAdjust="spacingAndGlyphs" text-anchor="end" stroke="#2e2a28" stroke-width="0.22">100</text>
<text x="108.2" y="1053.2" font-size="8.8" fill="#2e2a28" textLength="11.6" lengthAdjust="spacingAndGlyphs" text-anchor="end" stroke="#2e2a28" stroke-width="0.22">80</text>
<text x="108.2" y="1075.5" font-size="8.8" fill="#2e2a28" textLength="11.6" lengthAdjust="spacingAndGlyphs" text-anchor="end" stroke="#2e2a28" stroke-width="0.22">60</text>
<text x="108.2" y="1098.1000000000001" font-size="8.8" fill="#2e2a28" textLength="11.6" lengthAdjust="spacingAndGlyphs" text-anchor="end" stroke="#2e2a28" stroke-width="0.22">40</text>
<text x="108.2" y="1120.2" font-size="8.8" fill="#2e2a28" textLength="11.6" lengthAdjust="spacingAndGlyphs" text-anchor="end" stroke="#2e2a28" stroke-width="0.22">20</text>
<text x="108.2" y="1142.2" font-size="8.8" fill="#2e2a28" textLength="5.4" lengthAdjust="spacingAndGlyphs" text-anchor="end" stroke="#2e2a28" stroke-width="0.22">0</text>
<text x="110" y="1152.4" font-size="8.8" fill="#2e2a28" textLength="5.2" lengthAdjust="spacingAndGlyphs" text-anchor="middle" stroke="#2e2a28" stroke-width="0.22">0</text>
<text x="151.1" y="1152.4" font-size="8.8" fill="#2e2a28" textLength="16.3" lengthAdjust="spacingAndGlyphs" text-anchor="middle" stroke="#2e2a28" stroke-width="0.22">200</text>
<text x="189.4" y="1152.4" font-size="8.8" fill="#2e2a28" textLength="16.3" lengthAdjust="spacingAndGlyphs" text-anchor="middle" stroke="#2e2a28" stroke-width="0.22">400</text>
<text x="228" y="1152.4" font-size="8.8" fill="#2e2a28" textLength="16.3" lengthAdjust="spacingAndGlyphs" text-anchor="middle" stroke="#2e2a28" stroke-width="0.22">600</text>
<text x="274.8" y="1152.4" font-size="8.8" fill="#2e2a28" textLength="16.3" lengthAdjust="spacingAndGlyphs" text-anchor="middle" stroke="#2e2a28" stroke-width="0.22">800</text>
<text x="311.1" y="1152.4" font-size="8.8" fill="#2e2a28" textLength="21.4" lengthAdjust="spacingAndGlyphs" text-anchor="middle" stroke="#2e2a28" stroke-width="0.22">1000</text>
<text x="347.3" y="1152.4" font-size="8.8" fill="#2e2a28" textLength="21.4" lengthAdjust="spacingAndGlyphs" text-anchor="middle" stroke="#2e2a28" stroke-width="0.22">1200</text>
<text x="379.7" y="1152.4" font-size="8.8" fill="#2e2a28" textLength="21.4" lengthAdjust="spacingAndGlyphs" text-anchor="middle" stroke="#2e2a28" stroke-width="0.22">1400</text>
<text x="253" y="1170.2" font-size="10.3" fill="#2e2a28" textLength="79" lengthAdjust="spacingAndGlyphs" text-anchor="middle">Cycle life(times)</text>
<text x="85.6" y="1065.5" font-size="10.3" fill="#2e2a28" textLength="65.5" lengthAdjust="spacingAndGlyphs" text-anchor="middle" transform="rotate(-90 85.6 1065.5)" font-family='"Liberation Sans", "Noto Sans CJK SC", sans-serif'>Capacity（%）</text>
<path d="M112.00,1027.00 C112.83,1026.55 115.33,1025.07 117.00,1024.30 C118.67,1023.53 120.33,1022.87 122.00,1022.40 C123.67,1021.93 125.50,1021.58 127.00,1021.50 C128.50,1021.42 129.45,1021.47 131.00,1021.90 C132.55,1022.33 135.42,1023.73 136.30,1024.10" fill="none" stroke="#4a423a" stroke-width="0.8" />
<path d="M112.00,1026.80 C113.33,1026.23 116.50,1024.40 120.00,1023.40 C123.50,1022.40 127.52,1021.42 133.00,1020.80 C138.48,1020.18 146.63,1019.70 152.90,1019.70 C159.17,1019.70 165.75,1020.28 170.60,1020.80 C175.45,1021.32 178.33,1022.02 182.00,1022.80 C185.67,1023.58 190.83,1025.05 192.60,1025.50" fill="none" stroke="#4a423a" stroke-width="0.8" />
<path d="M112.00,1027.60 C113.67,1027.10 118.50,1025.55 122.00,1024.60 C125.50,1023.65 128.00,1022.73 133.00,1021.90 C138.00,1021.07 146.43,1019.95 152.00,1019.60 C157.57,1019.25 161.73,1019.67 166.40,1019.80 C171.07,1019.93 174.42,1020.33 180.00,1020.40 C185.58,1020.47 191.05,1020.07 199.90,1020.20 C208.75,1020.33 224.25,1020.77 233.10,1021.20 C241.95,1021.63 246.48,1022.17 253.00,1022.80 C259.52,1023.43 269.00,1024.63 272.20,1025.00" fill="none" stroke="#4a423a" stroke-width="0.8" />
<path d="M136.90,1024.20 C139.42,1025.03 147.08,1026.52 152.00,1029.20 C156.92,1031.88 162.17,1036.60 166.40,1040.30 C170.63,1044.00 174.08,1047.72 177.40,1051.40 C180.72,1055.08 183.97,1058.92 186.30,1062.40 C188.63,1065.88 190.55,1070.65 191.40,1072.30 L169.8,1072.3 C169.05,1070.28 166.98,1064.05 165.30,1060.20 C163.62,1056.35 161.92,1052.88 159.70,1049.20 C157.48,1045.52 154.58,1041.33 152.00,1038.10 C149.42,1034.87 146.72,1032.12 144.20,1029.80 C141.68,1027.48 138.12,1025.13 136.90,1024.20 Z" fill="#2a1a7c" stroke="#2a1a7c" stroke-width="0.6" />
<path d="M192.60,1025.50 C194.93,1026.05 202.07,1027.37 206.60,1028.80 C211.13,1030.23 215.38,1032.10 219.80,1034.10 C224.22,1036.10 228.67,1038.15 233.10,1040.80 C237.53,1043.45 241.97,1046.68 246.40,1050.00 C250.83,1053.32 255.62,1056.98 259.70,1060.70 C263.78,1064.42 269.03,1070.37 270.90,1072.30 L239.1,1072.3 C238.10,1070.13 235.20,1063.02 233.10,1059.30 C231.00,1055.58 229.15,1053.08 226.50,1050.00 C223.85,1046.92 220.52,1043.67 217.20,1040.80 C213.88,1037.93 210.70,1035.35 206.60,1032.80 C202.50,1030.25 194.93,1026.72 192.60,1025.50 Z" fill="#2a1a7c" stroke="#2a1a7c" stroke-width="0.6" />
<path d="M272.20,1025.00 C274.60,1025.33 281.80,1026.23 286.60,1027.00 C291.40,1027.77 296.22,1028.45 301.00,1029.60 C305.78,1030.75 310.52,1032.10 315.30,1033.90 C320.08,1035.70 324.90,1038.12 329.70,1040.40 C334.50,1042.68 339.30,1044.97 344.10,1047.60 C348.90,1050.23 354.18,1053.33 358.50,1056.20 C362.82,1059.07 366.42,1062.12 370.00,1064.80 C373.58,1067.48 378.33,1071.05 380.00,1072.30 L352,1072.3 C350.92,1071.17 348.02,1067.95 345.50,1065.50 C342.98,1063.05 340.02,1060.23 336.90,1057.60 C333.78,1054.97 330.40,1052.22 326.80,1049.70 C323.20,1047.18 319.60,1045.02 315.30,1042.50 C311.00,1039.98 305.78,1036.87 301.00,1034.60 C296.22,1032.33 291.40,1030.50 286.60,1028.90 C281.80,1027.30 274.60,1025.65 272.20,1025.00 Z" fill="#2a1a7c" stroke="#2a1a7c" stroke-width="0.6" />
<text x="169.5" y="1082.8" font-size="7.3" fill="#2e2a28" textLength="22.5" lengthAdjust="spacingAndGlyphs" stroke="#2e2a28" stroke-width="0.22">100%</text>
<text x="168.8" y="1091" font-size="7.3" fill="#2e2a28" textLength="19.5" lengthAdjust="spacingAndGlyphs" stroke="#2e2a28" stroke-width="0.22">DOD</text>
<text x="247.7" y="1082.8" font-size="7.3" fill="#2e2a28" textLength="16.5" lengthAdjust="spacingAndGlyphs" stroke="#2e2a28" stroke-width="0.22">50%</text>
<text x="247.7" y="1091" font-size="7.3" fill="#2e2a28" textLength="19.5" lengthAdjust="spacingAndGlyphs" stroke="#2e2a28" stroke-width="0.22">DOD</text>
<text x="359.9" y="1082.8" font-size="7.3" fill="#2e2a28" textLength="16" lengthAdjust="spacingAndGlyphs" stroke="#2e2a28" stroke-width="0.22">30%</text>
<text x="359.9" y="1090.8" font-size="7.3" fill="#2e2a28" textLength="19" lengthAdjust="spacingAndGlyphs" stroke="#2e2a28" stroke-width="0.22">DOD</text>
<text x="278.7" y="1104.9" font-size="7.4" fill="#2e2a28" textLength="85" lengthAdjust="spacingAndGlyphs">Ambient Termperature:</text>
<text x="278.7" y="1113.2" font-size="7.4" fill="#2e2a28" textLength="42" lengthAdjust="spacingAndGlyphs" font-family='"Liberation Sans", "Noto Sans CJK SC", sans-serif'>25℃(77℉)</text>
</g>
<g id="sec_storage">
<rect x="529.2" y="977.4" width="309.69999999999993" height="163.80000000000007" fill="#efefef" stroke="none" stroke-width="1" rx="0" />
<line x1="541.59" y1="977.4" x2="541.59" y2="1141.2" stroke="#302c2a" stroke-width="0.7" />
<line x1="553.98" y1="977.4" x2="553.98" y2="1141.2" stroke="#302c2a" stroke-width="0.7" />
<line x1="566.36" y1="977.4" x2="566.36" y2="1141.2" stroke="#302c2a" stroke-width="0.7" />
<line x1="578.75" y1="977.4" x2="578.75" y2="1141.2" stroke="#302c2a" stroke-width="0.7" />
<line x1="591.14" y1="977.4" x2="591.14" y2="1141.2" stroke="#302c2a" stroke-width="0.7" />
<line x1="603.53" y1="977.4" x2="603.53" y2="1141.2" stroke="#302c2a" stroke-width="0.7" />
<line x1="615.92" y1="977.4" x2="615.92" y2="1141.2" stroke="#302c2a" stroke-width="0.7" />
<line x1="628.3" y1="977.4" x2="628.3" y2="1141.2" stroke="#302c2a" stroke-width="0.7" />
<line x1="640.69" y1="977.4" x2="640.69" y2="1141.2" stroke="#302c2a" stroke-width="0.7" />
<line x1="653.08" y1="977.4" x2="653.08" y2="1141.2" stroke="#302c2a" stroke-width="0.7" />
<line x1="665.47" y1="977.4" x2="665.47" y2="1141.2" stroke="#302c2a" stroke-width="0.7" />
<line x1="677.86" y1="977.4" x2="677.86" y2="1141.2" stroke="#302c2a" stroke-width="0.7" />
<line x1="690.24" y1="977.4" x2="690.24" y2="1141.2" stroke="#302c2a" stroke-width="0.7" />
<line x1="702.63" y1="977.4" x2="702.63" y2="1141.2" stroke="#302c2a" stroke-width="0.7" />
<line x1="715.02" y1="977.4" x2="715.02" y2="1141.2" stroke="#302c2a" stroke-width="0.7" />
<line x1="727.41" y1="977.4" x2="727.41" y2="1141.2" stroke="#302c2a" stroke-width="0.7" />
<line x1="739.8" y1="977.4" x2="739.8" y2="1141.2" stroke="#302c2a" stroke-width="0.7" />
<line x1="752.18" y1="977.4" x2="752.18" y2="1141.2" stroke="#302c2a" stroke-width="0.7" />
<line x1="764.57" y1="977.4" x2="764.57" y2="1141.2" stroke="#302c2a" stroke-width="0.7" />
<line x1="776.96" y1="977.4" x2="776.96" y2="1141.2" stroke="#302c2a" stroke-width="0.7" />
<line x1="789.35" y1="977.4" x2="789.35" y2="1141.2" stroke="#302c2a" stroke-width="0.7" />
<line x1="801.74" y1="977.4" x2="801.74" y2="1141.2" stroke="#302c2a" stroke-width="0.7" />
<line x1="814.12" y1="977.4" x2="814.12" y2="1141.2" stroke="#302c2a" stroke-width="0.7" />
<line x1="826.51" y1="977.4" x2="826.51" y2="1141.2" stroke="#302c2a" stroke-width="0.7" />
<line x1="529.2" y1="1005.0" x2="838.9" y2="1005.0" stroke="#302c2a" stroke-width="0.7" />
<line x1="529.2" y1="1032.0" x2="838.9" y2="1032.0" stroke="#302c2a" stroke-width="0.7" />
<line x1="529.2" y1="1059.2" x2="838.9" y2="1059.2" stroke="#302c2a" stroke-width="0.7" />
<line x1="529.2" y1="1086.6" x2="838.9" y2="1086.6" stroke="#302c2a" stroke-width="0.7" />
<line x1="529.2" y1="1114.0" x2="838.9" y2="1114.0" stroke="#302c2a" stroke-width="0.7" />
<rect x="529.2" y="977.4" width="309.69999999999993" height="163.80000000000007" fill="none" stroke="#302c2a" stroke-width="0.85" rx="0" />
<text x="528" y="981.1" font-size="8" fill="#2e2a28" textLength="11.8" lengthAdjust="spacingAndGlyphs" text-anchor="end">120</text>
<text x="528" y="1008.7" font-size="8" fill="#2e2a28" textLength="11.8" lengthAdjust="spacingAndGlyphs" text-anchor="end">100</text>
<text x="528" y="1035.7" font-size="8" fill="#2e2a28" textLength="7.9" lengthAdjust="spacingAndGlyphs" text-anchor="end">80</text>
<text x="528" y="1062.9" font-size="8" fill="#2e2a28" textLength="7.9" lengthAdjust="spacingAndGlyphs" text-anchor="end">60</text>
<text x="528" y="1090.3" font-size="8" fill="#2e2a28" textLength="7.9" lengthAdjust="spacingAndGlyphs" text-anchor="end">40</text>
<text x="528" y="1117.7" font-size="8" fill="#2e2a28" textLength="7.9" lengthAdjust="spacingAndGlyphs" text-anchor="end">20</text>
<text x="529.2" y="1151.8" font-size="7.6" fill="#2e2a28" textLength="4.2" lengthAdjust="spacingAndGlyphs" text-anchor="middle">0</text>
<text x="590.6" y="1151.8" font-size="7.6" fill="#2e2a28" textLength="4.2" lengthAdjust="spacingAndGlyphs" text-anchor="middle">5</text>
<text x="652.6" y="1151.8" font-size="7.6" fill="#2e2a28" textLength="8.5" lengthAdjust="spacingAndGlyphs" text-anchor="middle">10</text>
<text x="714.5" y="1151.8" font-size="7.6" fill="#2e2a28" textLength="8.5" lengthAdjust="spacingAndGlyphs" text-anchor="middle">15</text>
<text x="776.5" y="1151.8" font-size="7.6" fill="#2e2a28" textLength="8.5" lengthAdjust="spacingAndGlyphs" text-anchor="middle">20</text>
<text x="838.4" y="1151.8" font-size="7.6" fill="#2e2a28" textLength="8.5" lengthAdjust="spacingAndGlyphs" text-anchor="middle">25</text>
<text x="684" y="1170.4" font-size="10" fill="#2e2a28" textLength="104" lengthAdjust="spacingAndGlyphs" text-anchor="middle">Storage time in month</text>
<text x="499.8" y="1069.5" font-size="10.3" fill="#2e2a28" textLength="91" lengthAdjust="spacingAndGlyphs" text-anchor="middle" transform="rotate(-90 499.8 1069.5)">Available capacity %</text>
<text x="688.6" y="972.6" font-size="8" fill="#2e2a28" textLength="129.5" lengthAdjust="spacingAndGlyphs" stroke="#2e2a28" stroke-width="0.2">Residual average capacity in % of C</text>
<text x="818.6" y="972.6" font-size="6" fill="#2e2a28" textLength="8.4" lengthAdjust="spacingAndGlyphs">20</text>
<line x1="529.2" y1="1005" x2="826.3" y2="1035.3" stroke="#0a8f4b" stroke-width="2.0" />
<line x1="529.2" y1="1005" x2="826.3" y2="1073.1" stroke="#d0312a" stroke-width="2.0" />
<line x1="529.2" y1="1005" x2="677.9" y2="1072.4" stroke="#1f1a70" stroke-width="2.0" />
<line x1="529.2" y1="1005" x2="603.5" y2="1072.7" stroke="#0a7fc6" stroke-width="2.0" />
<text x="604.8" y="1079" font-size="9.4" fill="#2e2a28" textLength="9.5" lengthAdjust="spacingAndGlyphs">40</text>
<text x="614.0999999999999" y="1079" font-size="8.4" fill="#2e2a28" textLength="9.5" lengthAdjust="spacingAndGlyphs" font-family='"Liberation Sans", "Noto Sans CJK SC", sans-serif'>℃</text>
<text x="679.3" y="1078" font-size="9.4" fill="#2e2a28" textLength="9.5" lengthAdjust="spacingAndGlyphs">30</text>
<text x="688.5999999999999" y="1078" font-size="8.4" fill="#2e2a28" textLength="9.5" lengthAdjust="spacingAndGlyphs" font-family='"Liberation Sans", "Noto Sans CJK SC", sans-serif'>℃</text>
<text x="816.4" y="1045.8" font-size="9.4" fill="#2e2a28" textLength="9.5" lengthAdjust="spacingAndGlyphs">10</text>
<text x="825.6999999999999" y="1045.8" font-size="8.4" fill="#2e2a28" textLength="9.5" lengthAdjust="spacingAndGlyphs" font-family='"Liberation Sans", "Noto Sans CJK SC", sans-serif'>℃</text>
<text x="816" y="1082.6" font-size="9.4" fill="#2e2a28" textLength="9.5" lengthAdjust="spacingAndGlyphs">20</text>
<text x="825.3" y="1082.6" font-size="8.4" fill="#2e2a28" textLength="9.5" lengthAdjust="spacingAndGlyphs" font-family='"Liberation Sans", "Noto Sans CJK SC", sans-serif'>℃</text>
</g>
<g id="sec_footer">
<text x="41" y="1210.8" font-size="14.3" fill="#17178a" textLength="130.5" lengthAdjust="spacingAndGlyphs" font-weight="bold">JYC GE BATTERIES</text>
<text x="41" y="1224.0" font-size="9.7" fill="#000" textLength="821" lengthAdjust="spacingAndGlyphs">This information is generally descriptive only and is not intended to make or imply any representation, guarantee or warranty with respect to any cells and batteries. Cell and battery designs/</text>
<text x="41" y="1235.0" font-size="9.7" fill="#000" textLength="407" lengthAdjust="spacingAndGlyphs">specification are subject to modification without notice. Contact JYC for the latest information.</text>
<line x1="414" y1="1279.5" x2="618" y2="1279.5" stroke="#f5c4c4" stroke-width="1" stroke-dasharray="2 1"/>
<line x1="834.5" y1="1279.5" x2="904" y2="1279.5" stroke="#e2e2e2" stroke-width="1" />
</g>
</svg></body></html>
